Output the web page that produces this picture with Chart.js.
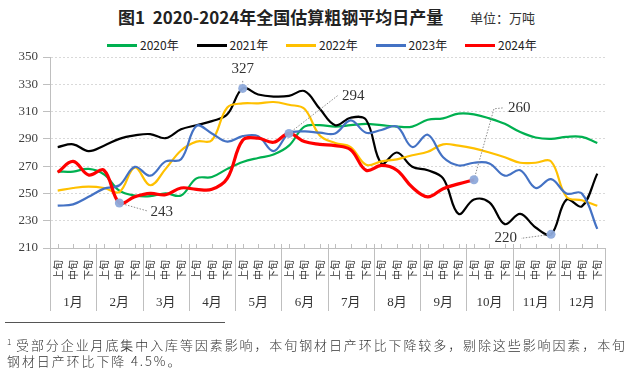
<!DOCTYPE html>
<html><head><meta charset="utf-8">
<script src="https://cdn.jsdelivr.net/npm/chart.js@4.4.1/dist/chart.umd.min.js"></script>
<style>
html,body{margin:0;padding:0;background:#fff;}
body{width:637px;height:381px;position:relative;overflow:hidden;font-family:'Noto Sans CJK SC',sans-serif;}
#c{position:absolute;left:0;top:0;}
.title{position:absolute;top:6px;left:118px;font-size:17px;line-height:22px;font-weight:bold;color:#222;white-space:nowrap;}
.unit{position:absolute;top:9px;left:470px;font-size:13px;line-height:18px;color:#333;white-space:nowrap;}
#legend{position:absolute;left:0;top:36px;width:637px;height:18px;}
.li{position:absolute;top:0;height:18px;}
.li .ln{position:absolute;left:0;top:8px;width:30px;}
.li .tx{position:absolute;left:33px;top:0;font-size:12px;line-height:18px;color:#222;white-space:nowrap;}
.rule{position:absolute;left:5px;top:322px;width:220px;height:1px;background:#555;}
.note{position:absolute;left:7px;font-size:13px;line-height:18px;color:#333;white-space:nowrap;letter-spacing:1.9px;font-weight:300;}
.note sup{font-size:8px;letter-spacing:0;}
</style></head>
<body>
<div class="title">图1&nbsp; 2020-2024年全国估算粗钢平均日产量</div>
<div class="unit">单位：万吨</div>
<div id="legend"></div>
<canvas id="c" width="637" height="381"></canvas>
<div class="rule"></div>
<div class="note" style="top:333px;"><sup>1</sup> 受部分企业月底集中入库等因素影响，本旬钢材日产环比下降较多，剔除这些影响因素，本旬</div>
<div class="note" style="top:352px;">钢材日产环比下降 4.5%。</div>
<script>
const periods = [];
for (let m = 0; m < 12; m++) periods.push('上旬','中旬','下旬');
const months = ['1月','2月','3月','4月','5月','6月','7月','8月','9月','10月','11月','12月'];
const seriesNames = ['2020年','2021年','2022年','2023年','2024年'];

const v2020 = [266,266,268,264,252,248.5,248,250,248.5, 261,262,268,273,276,278.5,285,299,300, 299,300,301,300,299,299,304,305,308.5, 308,305,301,295,291,290,291.5,291.5,287];
const v2021 = [284,286,281,285,290,292.5,293.5,290.5,297, 300,303,308,327,322.5,321,321.5,325,312, 300,305.5,304,272,280,269.5,267,261,235, 245.5,243.5,227.5,235,225,220,245.5,240.5,264.5];
const v2022 = [252,254,255,254,251,269,256,268,281.5, 288,289,313,316,316,317,315,312,292.5, 287,284,271,273.5,275,278,280.5,286,285, 283,280,276.5,272.5,272.5,273.5,247.5,245,241];
const v2023 = [241,242,247.5,253.5,256,269.5,263,273.5,275, 299.5,294,288,292,292,281,294,295.5,294.5, 294,303.5,294.5,296.5,299,284,293,276.5,270.5, 272.5,272,263,267,254,260.5,250,250,224];
const v2024 = [265.5,273.5,263.5,267,243,247.5,250,249,254, 253,253,261,289,290.5,287.5,294,288,286, 285,282,267,270.5,267,254.5,247.5,253.5,257, 260,null,null,null,null,null,null,null,null];

const yTicksMin = 210, yTicksMax = 350, yStep = 20;

const seriesColors = ['#00b050','#000000','#ffc000','#4472c4','#ff0000'];
const seriesWidths = [2.2,2.2,2.2,2.2,3.2];

// callouts: which series / period gets a labelled marker
const callouts = [
  {series: 1, index: 12, text: '327'},
  {series: 4, index: 4, text: '243'},
  {series: 4, index: 15, text: '294'},
  {series: 4, index: 27, text: '260'},
  {series: 1, index: 32, text: '220'}
];
const calloutLayout = {
  '327': {path: [[0,-8]], at: [0,-19], align: 'center'},
  '243': {path: [[28,8]], at: [31,9], align: 'left'},
  '294': {path: [[49,-38]], at: [53,-37], align: 'left'},
  '260': {path: [[20,-71],[30,-72]], at: [34,-72], align: 'left'},
  '220': {path: [[-30,4]], at: [-34,4], align: 'right'}
};

const allValues = [v2020, v2021, v2022, v2023, v2024];

// HTML legend
const lg = document.getElementById('legend');
seriesNames.forEach((n, i) => {
  const d = document.createElement('div');
  d.className = 'li';
  d.style.left = (107 + 89.5 * i) + 'px';
  d.innerHTML = '<div class="ln" style="height:' + (i === 4 ? 3 : 2.5) + 'px;background:' + seriesColors[i] + '"></div><div class="tx">' + n + '</div>';
  lg.appendChild(d);
});

const extras = {
  id: 'extras',
  afterDatasetsDraw(chart) {
    const ctx = chart.ctx;
    const xs = chart.scales.x, ys = chart.scales.y;
    const ca = chart.chartArea;
    ctx.save();
    ctx.strokeStyle = '#bfbfbf';
    ctx.lineWidth = 1;
    for (let i = 0; i < periods.length; i++) {
      const x = Math.round(xs.getPixelForValue(i)) + 0.5;
      ctx.beginPath(); ctx.moveTo(x, ca.bottom - 4); ctx.lineTo(x, ca.bottom); ctx.stroke();
    }
    const x2 = chart.scales.x2;
    for (let k = 0; k <= 12; k++) {
      const x = Math.round(xs.getPixelForValue(3 * k - 0.5)) + 0.5;
      ctx.beginPath(); ctx.moveTo(x, ca.bottom - (k % 12 === 0 ? 0 : 4)); ctx.lineTo(x, x2.bottom - 2); ctx.stroke();
    }
    callouts.forEach(c => {
      const v = allValues[c.series][c.index];
      const px = xs.getPixelForValue(c.index), py = ys.getPixelForValue(v);
      const L = calloutLayout[c.text];
      ctx.strokeStyle = '#8c8c8c';
      ctx.lineWidth = 1;
      ctx.setLineDash([1.5, 1.5]);
      ctx.beginPath(); ctx.moveTo(px, py);
      L.path.forEach(p => ctx.lineTo(px + p[0], py + p[1]));
      ctx.stroke();
      ctx.setLineDash([]);
      ctx.beginPath(); ctx.arc(px, py, 4.5, 0, Math.PI * 2);
      ctx.fillStyle = 'rgba(142,170,219,0.95)';
      ctx.fill();
      ctx.font = '15px "Liberation Serif", serif';
      ctx.fillStyle = '#333';
      ctx.textAlign = L.align;
      ctx.textBaseline = 'middle';
      ctx.fillText(c.text, px + L.at[0], py + L.at[1]);
    });
    ctx.restore();
  }
};

new Chart(document.getElementById('c'), {
  type: 'line',
  data: {
    labels: periods,
    datasets: seriesNames.map((n, i) => ({
      label: n,
      data: allValues[i],
      borderColor: seriesColors[i],
      backgroundColor: seriesColors[i],
      borderWidth: seriesWidths[i],
      pointRadius: 0,
      tension: 0.38,
      fill: false,
      spanGaps: false,
      xAxisID: 'x',
      yAxisID: 'y',
      order: 4 - i
    }))
  },
  options: {
    responsive: false,
    animation: false,
    devicePixelRatio: 1,
    layout: {padding: {top: 57, right: 32, bottom: 68, left: 0}},
    plugins: {legend: {display: false}, tooltip: {enabled: false}, title: {display: false}},
    scales: {
      y: {
        min: yTicksMin, max: yTicksMax,
        afterFit(s) { s.width = 50; },
        ticks: {stepSize: yStep, font: {family: '"Liberation Serif", serif', size: 13}, color: '#404040', padding: 5},
        grid: {color: '#d9d9d9', lineWidth: 1, tickColor: '#bfbfbf', tickLength: 7},
        border: {color: '#bfbfbf', dash: [2, 2]}
      },
      x: {
        type: 'category',
        offset: true,
        weight: 0,
        afterFit(s) { s.height = 35; },
        ticks: {autoSkip: false, minRotation: 90, maxRotation: 90, padding: 4, font: {family: '"Noto Sans CJK SC", sans-serif', size: 10}, color: '#333'},
        grid: {display: false},
        border: {display: true, color: '#bfbfbf'}
      },
      x2: {
        type: 'category',
        position: 'bottom',
        labels: months,
        offset: true,
        weight: 1,
        afterFit(s) { s.height = 30; },
        ticks: {autoSkip: false, maxRotation: 0, minRotation: 0, padding: 4, font: {family: '"Liberation Serif", "Noto Sans CJK SC", serif', size: 13}, color: '#333'},
        grid: {display: false},
        border: {display: false}
      }
    }
  },
  plugins: [extras]
});
</script>
</body></html>
